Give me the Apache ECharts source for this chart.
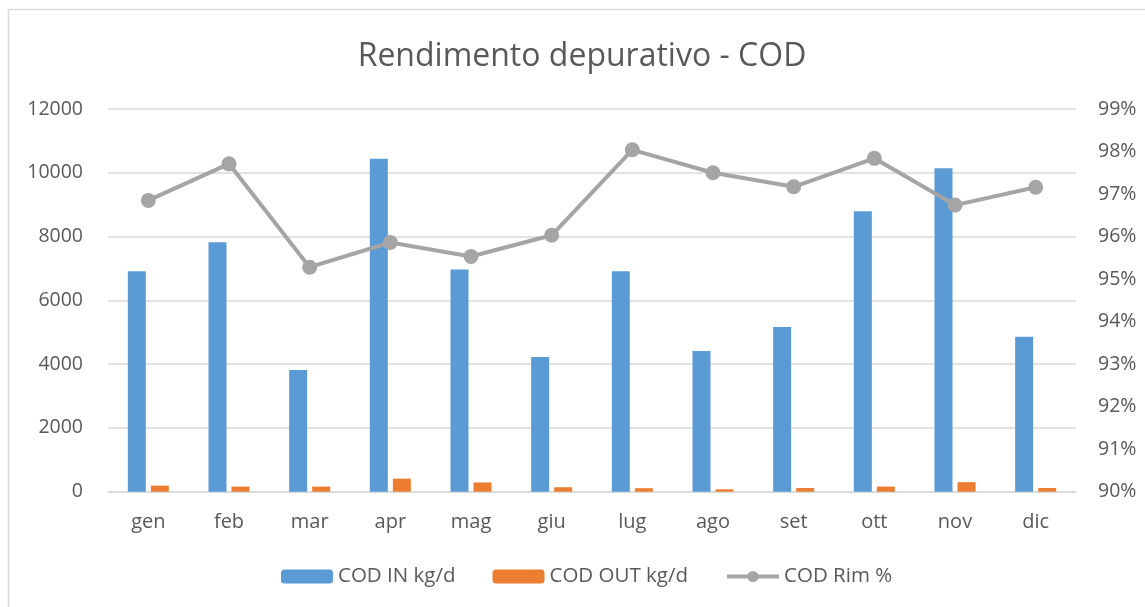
<!DOCTYPE html>
<html>
<head>
<meta charset="utf-8">
<script src="https://cdn.jsdelivr.net/npm/echarts@6/dist/echarts.min.js"></script>
<style>
html,body{margin:0;padding:0;background:#fff;}
#chart{width:1145px;height:607px;}
</style>
</head>
<body>
<div id="chart"></div>
<script>
const months = ['gen','feb','mar','apr','mag','giu','lug','ago','set','ott','nov','dic'];
const codIn = [6910, 7820, 3815, 10440, 6970, 4220, 6910, 4410, 5165, 8790, 10145, 4860];
const codOut = [190, 160, 160, 410, 290, 140, 110, 75, 115, 160, 300, 115];
const codRim = [96.85, 97.71, 95.28, 95.86, 95.53, 96.03, 98.04, 97.50, 97.17, 97.84, 96.74, 97.16];

const FONT = '"Open Sans", "Noto Sans", sans-serif';
const TXT = '#595959';

const chart = echarts.init(document.getElementById('chart'), null, {renderer: 'canvas'});
chart.setOption({
  animation: false,
  backgroundColor: '#ffffff',
  textStyle: {fontFamily: FONT},
  title: {
    text: 'Rendimento depurativo - COD',
    left: 577,
    textAlign: 'center',
    top: 36,
    textStyle: {fontFamily: FONT, fontSize: 32, fontWeight: 'normal', color: TXT}
  },
  graphic: [{
    type: 'rect',
    shape: {x: 8.5, y: 9.5, width: 3000, height: 3000},
    style: {fill: 'none', stroke: '#d9d9d9', lineWidth: 1.5},
    silent: true
  }],
  legend: {
    left: 281,
    top: 566,
    padding: 0,
    itemWidth: 52,
    itemHeight: 14,
    itemGap: 37,
    textStyle: {fontFamily: FONT, fontSize: 20.5, color: TXT},
    data: [
      {name: 'COD IN kg/d'},
      {name: 'COD OUT kg/d'},
      {name: 'COD Rim %', lineStyle: {width: 4, color: '#a5a5a5'}}
    ]
  },
  grid: {left: 108, right: 69, top: 109, bottom: 115.3, containLabel: false},
  xAxis: {
    type: 'category',
    data: months,
    axisLine: {lineStyle: {color: '#d9d9d9', width: 1.5}},
    axisTick: {show: false},
    axisLabel: {fontFamily: FONT, fontSize: 20, color: TXT, margin: 21}
  },
  yAxis: [{
    type: 'value',
    min: 0, max: 12000, interval: 2000,
    axisLine: {show: false},
    axisTick: {show: false},
    splitLine: {lineStyle: {color: '#d9d9d9', width: 1.5}},
    axisLabel: {fontFamily: FONT, fontSize: 19.5, color: TXT, margin: 25, formatter: function (v) { return String(v); }}
  }, {
    type: 'value',
    min: 90, max: 99, interval: 1,
    axisLine: {show: false},
    axisTick: {show: false},
    splitLine: {show: false},
    axisLabel: {fontFamily: FONT, fontSize: 19.5, color: TXT, margin: 22, formatter: '{value}%'}
  }],
  series: [{
    name: 'COD IN kg/d',
    type: 'bar',
    data: codIn,
    barWidth: 18,
    barGap: '28%',
    itemStyle: {color: '#5b9bd5'}
  }, {
    name: 'COD OUT kg/d',
    type: 'bar',
    data: codOut,
    barWidth: 18,
    barGap: '28%',
    itemStyle: {color: '#ed7d31'}
  }, {
    name: 'COD Rim %',
    type: 'line',
    yAxisIndex: 1,
    data: codRim,
    symbol: 'circle',
    symbolSize: 15,
    lineStyle: {color: '#a5a5a5', width: 4},
    itemStyle: {color: '#a5a5a5'}
  }]
});
</script>
</body>
</html>
